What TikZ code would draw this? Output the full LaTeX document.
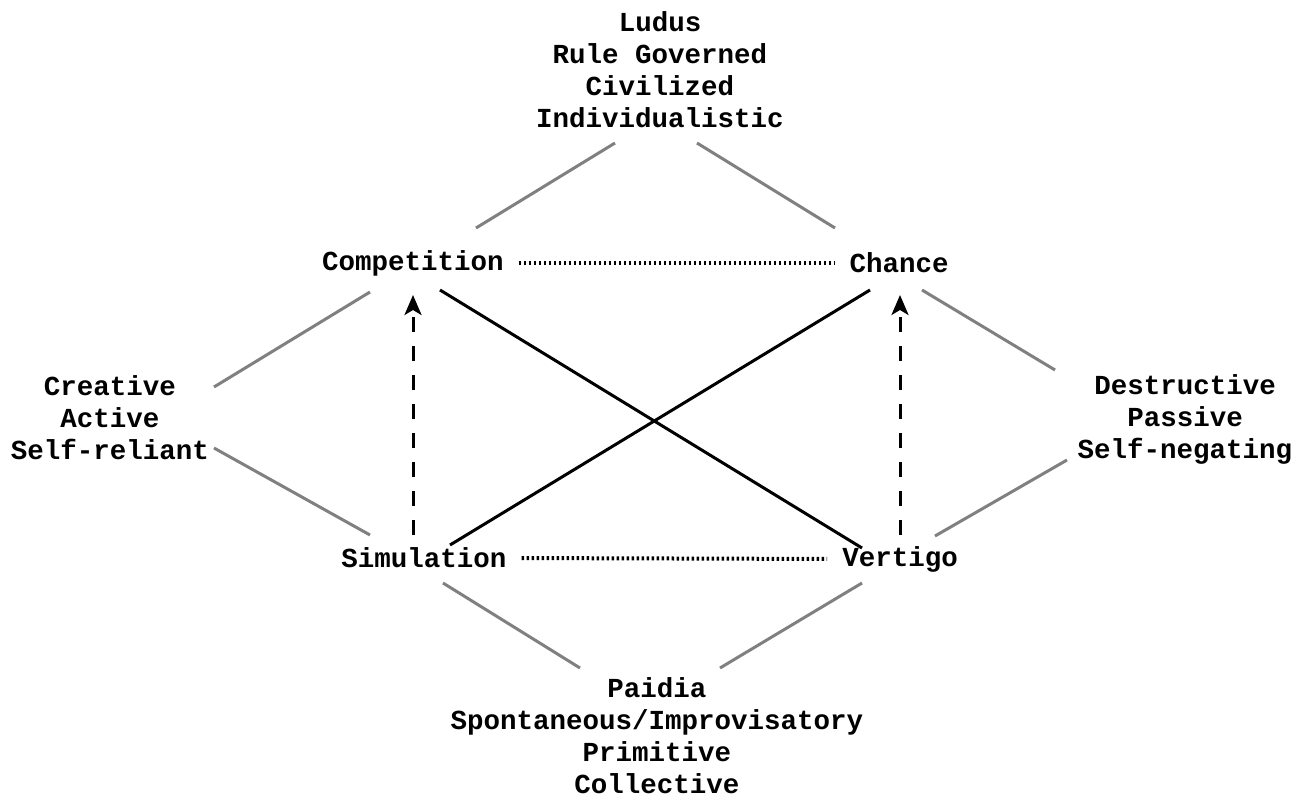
\documentclass[tikz,border=0pt]{standalone}
\usepackage{fontspec}
\usepackage{tikz}
\usetikzlibrary{arrows.meta}
\newfontfamily\playfont{Liberation Mono}
\tikzset{
    play-label/.style = {inner sep=0pt, align=center, font=\playfont\bfseries\fontsize{27.5}{32}\selectfont},
    side-line/.style = {draw=black!50, line width=3pt},
    cross-line/.style = {draw=black, line width=3pt},
    rise-arrow/.style = {draw=black, line width=3pt, dash pattern=on 15pt off 14pt, -{Stealth[length=20pt,width=17pt,inset=5pt]}},
    dotted-link/.style = {draw=black, line width=4pt, dash pattern=on 2.5pt off 2.5pt, shorten <=15pt, shorten >=15pt},
}
\begin{document}
\begin{tikzpicture}[x=1pt, y=-1pt]
\useasboundingbox (0,0) rectangle (1308,799);
% the four corners
\node [play-label] (comp)   at (413,263) {Competition};
\node [play-label] (chance) at (899,263) {Chance};
\node [play-label] (sim)    at (424,558) {Simulation};
\node [play-label] (vert)   at (900,559) {Vertigo};
% the four poles
\node [play-label] (ludus)    at (660,70)  {Ludus\\Rule Governed\\Civilized\\Individualistic};
\node [play-label] (creative) at (110,418) {Creative\\Active\\Self-reliant};
\node [play-label] (destr)    at (1185,419) {Destructive\\Passive\\Self-negating};
\node [play-label] (paidia)   at (657,736) {Paidia\\Spontaneous/Improvisatory\\Primitive\\Collective};

% grey links out to the poles
\draw [side-line] ([shift={(-45,73)}]ludus.center) -- ([shift={(63,-35)}]comp.center);
\draw [side-line] ([shift={(37,73)}]ludus.center) -- ([shift={(-64,-35)}]chance.center);
\draw [side-line] ([shift={(104,-31)}]creative.center) -- ([shift={(-43,29)}]comp.center);
\draw [side-line] ([shift={(104,30)}]creative.center) -- ([shift={(-54,-23)}]sim.center);
\draw [side-line] ([shift={(-130,-49)}]destr.center) -- ([shift={(23,27)}]chance.center);
\draw [side-line] ([shift={(-118,41)}]destr.center) -- ([shift={(35,-23)}]vert.center);
\draw [side-line] ([shift={(-77,-68)}]paidia.center) -- ([shift={(19,25)}]sim.center);
\draw [side-line] ([shift={(63,-68)}]paidia.center) -- ([shift={(-38,24)}]vert.center);

% the cross
\draw [cross-line] ([shift={(27,27)}]comp.center) -- ([shift={(-38,-11)}]vert.center);
\draw [cross-line] ([shift={(26,-13)}]sim.center) -- ([shift={(-29,27)}]chance.center);

% upward arrows
\draw [rise-arrow] ([shift={(-11,-23)}]sim.center) -- ([shift={(0,32)}]comp.center);
\draw [rise-arrow] ([shift={(0,-24)}]vert.center) -- ([shift={(1,32)}]chance.center);

% dotted links
\draw [dotted-link] (comp.east) -- (chance.west);
\draw [dotted-link] (sim.east) -- (vert.west);
\end{tikzpicture}
\end{document}
